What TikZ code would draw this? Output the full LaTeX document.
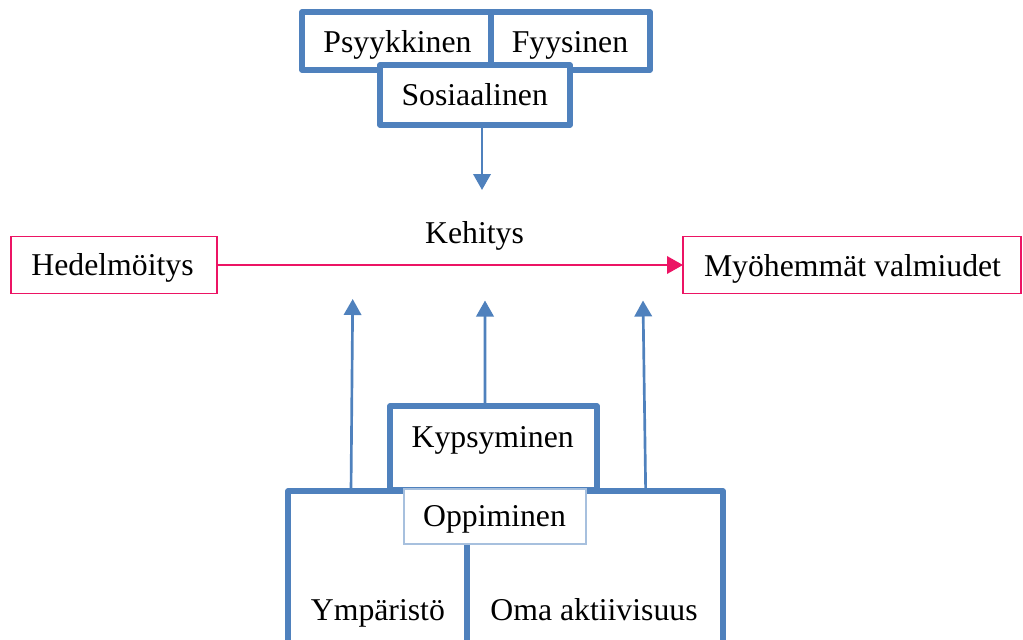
\documentclass[tikz,border=0pt]{standalone}
\usepackage{fontspec}
\setmainfont{Liberation Serif}
\usetikzlibrary{arrows.meta}
\definecolor{bblue}{RGB}{79,129,189}
\definecolor{hpink}{RGB}{236,20,100}
\definecolor{lblue}{RGB}{167,192,222}
\tikzset{
  thickbox/.style={draw=bblue,line width=4pt,line join=round,fill=white,inner sep=0pt,outer sep=0pt},
  pinkbox/.style={draw=hpink,line width=1pt,fill=white,inner sep=0pt,outer sep=0pt},
  thinbox/.style={draw=lblue,line width=0.8pt,fill=white,inner sep=0pt,outer sep=0pt},
  txt/.style={anchor=base,inner sep=0pt,font=\fontsize{23.8}{28}\selectfont},
  bluearrow/.style={draw=bblue,line width=2pt,-{Triangle[width=13pt,length=12pt]}},
  pinkarrow/.style={draw=hpink,line width=1.9pt,-{Triangle[width=13pt,length=12pt]}}
}
\begin{document}
\begin{tikzpicture}[x=0.75pt,y=-0.75pt]
\useasboundingbox (0,0) rectangle (1023,639);
\clip (0,0) rectangle (1023,639);

% top group
\node[thickbox,minimum width=141.75pt,minimum height=43.5pt] (psy) at (396.5,41) {};
\node[thickbox,minimum width=119.25pt,minimum height=43.5pt] (fyy) at (570.5,41) {};
\node[thickbox,minimum width=142.5pt,minimum height=45pt] (sos) at (475,95) {};
\node[txt] (psyt) at (397.5,52.7) {Psyykkinen};
\node[txt] (fyyt) at (570,52.5) {Fyysinen};
\node[txt] (sost) at (474.7,105) {Sosiaalinen};
\coordinate (sosend) at (482,190);
\draw[bluearrow] (sos.south -| sosend) -- (sosend);

% middle row
\node[pinkbox,minimum width=154.5pt,minimum height=42.75pt] (hed) at (114,265) {};
\node[pinkbox,minimum width=253.5pt,minimum height=42.75pt] (myo) at (852,265) {};
\node[txt] (hedt) at (112.5,275.5) {Hedelmöitys};
\node[txt] (myot) at (852.5,276) {Myöhemmät valmiudet};
\node[txt] (keh) at (474.5,243) {Kehitys};
\draw[pinkarrow] (hed.east) -- (myo.west);

% bottom group
\node[thickbox,minimum width=155.25pt,minimum height=63pt] (kyp) at (493.5,448) {};
\node[thickbox,minimum width=134.25pt,minimum height=156.75pt] (ymp) at (377.5,595.5) {};
\node[thickbox,minimum width=192pt,minimum height=156.75pt] (oma) at (595,595.5) {};
\node[thinbox,minimum width=136.5pt,minimum height=41.25pt] (opp) at (495,516.5) {};
\node[txt] (kypt) at (492.7,447) {Kypsyminen};
\node[txt] (oppt) at (494.5,526.7) {Oppiminen};
\node[txt] (ympt) at (377.9,620) {Ympäristö};
\node[txt] (omat) at (594,620) {Oma aktiivisuus};

\coordinate (la) at (352.7,299);
\coordinate (ma) at (485,300.5);
\coordinate (ra) at (643,300.5);
\draw[bluearrow] ([xshift=47.25pt]ymp.north west) -- (la);
\draw[bluearrow] ([xshift=-6.4pt]kyp.north) -- (ma);
\draw[bluearrow] ([xshift=134pt]oma.north west) -- (ra);
\end{tikzpicture}
\end{document}
